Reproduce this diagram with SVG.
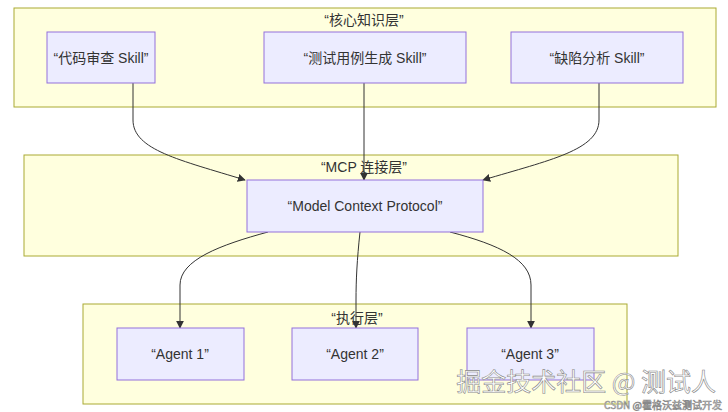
<svg xmlns="http://www.w3.org/2000/svg" width="728" height="412" viewBox="0 0 728 412">
<defs>
<marker id="arr" viewBox="0 0 10 10" refX="9" refY="5" markerWidth="8" markerHeight="8" orient="auto" markerUnits="userSpaceOnUse">
<path d="M0,0 L10,5 L0,10 z" fill="#333333"/>
</marker>
</defs>
<style>
.cl{fill:#ffffde;stroke:#aaaa33;stroke-width:1}
.nd{fill:#ececff;stroke:#9370db;stroke-width:1}
.t{font-family:"Liberation Sans","Noto Sans CJK SC",sans-serif;font-size:14px;fill:#333333;text-anchor:middle;dominant-baseline:central}
.e{fill:none;stroke:#333333;stroke-width:1;marker-end:url(#arr)}
.wm{font-family:"Noto Sans CJK SC",sans-serif;fill:#ffffff;stroke:#888888;stroke-width:0.6;text-anchor:end}
</style>
<rect width="728" height="412" fill="#ffffff"/>
<g id="cluster-core"><rect class="cl" x="14" y="8" width="702" height="99"/><text class="t" x="364" y="20">“核心知识层”</text></g>
<g id="cluster-mcp"><rect class="cl" x="24" y="155" width="654" height="101"/><text class="t" x="364" y="167">“MCP 连接层”</text></g>
<g id="cluster-exec"><rect class="cl" x="83" y="304" width="544" height="100"/><text class="t" x="357" y="318">“执行层”</text></g>
<g id="connectors">
<path class="e" d="M133,83 L133,120 C133,150 180,160 245,180"/>
<path class="e" d="M364,83 L364,180"/>
<path class="e" d="M599,83 L599,120 C599,150 550,160 483,180"/>
<path class="e" d="M268,232 C220,245 180,260 180,285 L180,328"/>
<path class="e" d="M360,232 C357,260 356,280 356,300 L356,328"/>
<path class="e" d="M450,232 C500,245 531,260 531,285 L531,328"/>
</g>
<g id="n-review"><rect class="nd" x="47" y="32" width="108" height="51"/><text class="t" x="101" y="58">“代码审查 Skill”</text></g>
<g id="n-testgen"><rect class="nd" x="264" y="32" width="202" height="51"/><text class="t" x="365" y="58">“测试用例生成 Skill”</text></g>
<g id="n-defect"><rect class="nd" x="511" y="32" width="172" height="51"/><text class="t" x="597" y="58">“缺陷分析 Skill”</text></g>
<g id="n-mcp"><rect class="nd" x="247" y="180" width="236" height="52"/><text class="t" x="365" y="206">“Model Context Protocol”</text></g>
<g id="n-a1"><rect class="nd" x="117" y="328" width="127" height="52"/><text class="t" x="180" y="354">“Agent 1”</text></g>
<g id="n-a2"><rect class="nd" x="292" y="328" width="126" height="52"/><text class="t" x="355" y="354">“Agent 2”</text></g>
<g id="n-a3"><rect class="nd" x="467" y="328" width="127" height="52"/><text class="t" x="530" y="354">“Agent 3”</text></g>
<text class="wm" x="716" y="391" font-size="25">掘金技术社区 @ 测试人</text>
<text class="wm" x="722" y="409" font-size="10" stroke-width="0.4">CSDN @霍格沃兹测试开发</text>
</svg>
